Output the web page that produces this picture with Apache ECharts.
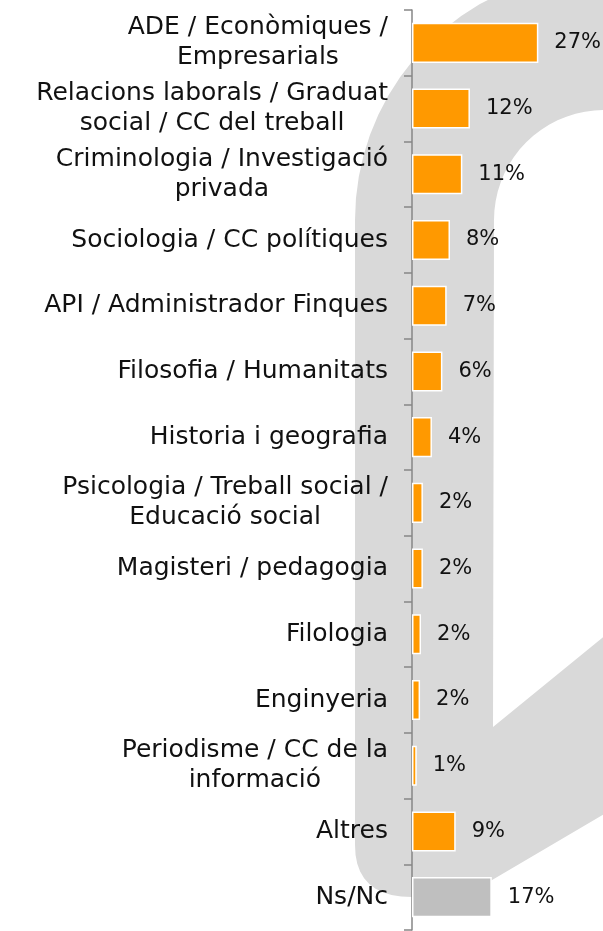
<!DOCTYPE html>
<html>
<head>
<meta charset="utf-8">
<script src="https://cdn.jsdelivr.net/npm/echarts@6/dist/echarts.min.js"></script>
<style>
  html, body { margin: 0; padding: 0; background: #fff; }
  #chart { width: 603px; height: 931px; }
</style>
</head>
<body>
<div id="chart"></div>
<script>
const categories = [
  'ADE / Econòmiques /\nEmpresarials',
  'Relacions laborals / Graduat\nsocial / CC del treball',
  'Criminologia / Investigació\nprivada',
  'Sociologia / CC polítiques',
  'API / Administrador Finques',
  'Filosofia / Humanitats',
  'Historia i geografia',
  'Psicologia / Treball social /\nEducació social',
  'Magisteri / pedagogia',
  'Filologia',
  'Enginyeria',
  'Periodisme / CC de la\ninformació',
  'Altres',
  'Ns/Nc'
]
const values = [26.6, 12.2, 10.6, 8.0, 7.3, 6.4, 4.2, 2.3, 2.3, 1.9, 1.7, 1.0, 9.2, 16.8]
const labels = ['27%', '12%', '11%', '8%', '7%', '6%', '4%', '2%', '2%', '2%', '2%', '1%', '9%', '17%']
const greyCategory = 'Ns/Nc'

const FONT = 'DejaVu Sans'

// outline of the grey logo watermark behind the plot
function logoOutline () {
  const pts = []
  const cx = 604, cy = 220
  for (let a = 270; a >= 180; a -= 5) {
    const r = a * Math.PI / 180
    pts.push([cx + 249 * Math.cos(r), cy + 249 * Math.sin(r)])
  }
  pts.push([355, 845])
  // rounded bottom-left corner
  for (let t = 0.1; t <= 1; t += 0.1) {
    const x = (1 - t) * (1 - t) * 355 + 2 * (1 - t) * t * 355 + t * t * 412
    const y = (1 - t) * (1 - t) * 845 + 2 * (1 - t) * t * 897 + t * t * 897
    pts.push([x, y])
  }
  pts.push([470, 893], [640, 793], [640, 607], [493, 727])
  for (let a = 180; a <= 270; a += 5) {
    const r = a * Math.PI / 180
    pts.push([cx + 110 * Math.cos(r), cy + 110 * Math.sin(r)])
  }
  return pts
}

const chart = echarts.init(document.getElementById('chart'))

chart.setOption({
  animation: false,
  backgroundColor: '#fff',
  graphic: [{
    type: 'polygon',
    z: -10,
    silent: true,
    shape: { points: logoOutline() },
    style: { fill: '#d9d9d9' }
  }],
  grid: { left: 412, right: 1, top: 10, bottom: 1 },
  xAxis: {
    type: 'value',
    min: 0,
    max: 40,
    show: false
  },
  yAxis: {
    type: 'category',
    inverse: true,
    data: categories,
    axisLine: { show: true, lineStyle: { color: '#868686', width: 1.5 } },
    axisTick: { show: true, length: 8, lineStyle: { color: '#868686', width: 1.5 } },
    axisLabel: {
      margin: 24,
      fontFamily: FONT,
      fontSize: 25,
      color: '#111',
      lineHeight: 30,
      formatter: v => v.split('\n').map(s => '{c|' + s + '}').join('\n'),
      rich: {
        c: { align: 'center', fontFamily: FONT, fontSize: 25, color: '#111', lineHeight: 30 }
      }
    },
    splitLine: { show: false }
  },
  series: [{
    type: 'bar',
    data: values.map((v, i) => ({
      value: v,
      itemStyle: { color: categories[i] === greyCategory ? '#bfbfbf' : '#ff9900' }
    })),
    barCategoryGap: '39%',
    itemStyle: { borderColor: '#fff', borderWidth: 1.5 },
    label: {
      show: true,
      position: 'right',
      distance: 16,
      fontFamily: FONT,
      fontSize: 21,
      color: '#111',
      formatter: p => labels[p.dataIndex]
    }
  }]
})
</script>
</body>
</html>
